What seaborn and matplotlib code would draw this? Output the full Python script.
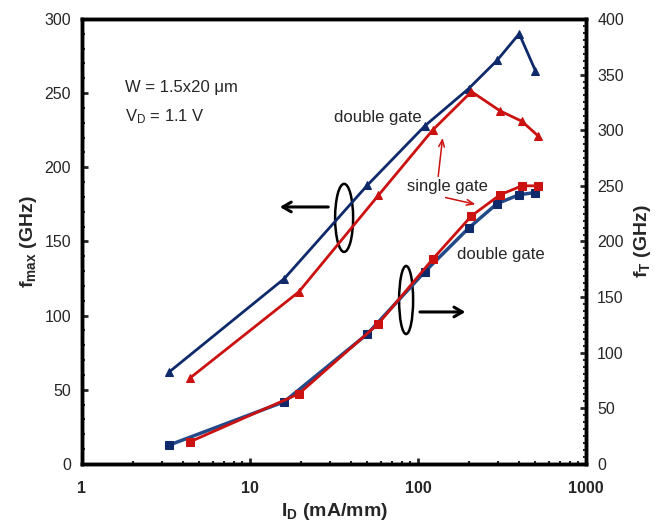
import matplotlib
matplotlib.use("Agg")
import matplotlib.pyplot as plt
import seaborn as sns
from matplotlib.patches import Ellipse
from matplotlib.ticker import FixedLocator, MultipleLocator, LogLocator, NullFormatter

# drain current (mA/mm) for each device
id_double = [3.3, 16, 50, 110, 200, 295, 400, 500]
id_single = [4.4, 19.5, 58, 122, 208, 308, 415, 520]

# fmax (left axis, GHz)
fmax_double = [62, 125, 188, 228, 253, 272, 290, 265]
fmax_single = [58, 116, 181, 225, 251, 238, 231, 221]

# fT (right axis, GHz)
ft_double = [17, 56, 117, 173, 212, 234, 242, 244]
ft_single = [20, 63, 126, 184, 223, 242, 250, 250]

navy = "#0f2a6b"
blue = "#234a88"
red = "#cc1111"

sns.set_style("ticks")
plt.rcParams["font.family"] = ["Liberation Sans", "DejaVu Sans"]
plt.rcParams["mathtext.fontset"] = "custom"
plt.rcParams["mathtext.rm"] = "Liberation Sans"
plt.rcParams["mathtext.it"] = "Liberation Sans"
plt.rcParams["mathtext.bf"] = "Liberation Sans:bold"

fig = plt.figure(figsize=(6.65, 5.23), dpi=100)
ax = fig.add_axes([0.1233, 0.1128, 0.758, 0.851])
ax2 = ax.twinx()

# fmax curves (triangles)
sns.lineplot(x=id_double, y=fmax_double, ax=ax, color=navy, marker="^", markersize=6,
             markeredgecolor=navy, linewidth=2)
sns.lineplot(x=id_single, y=fmax_single, ax=ax, color=red, marker="^", markersize=6,
             markeredgecolor=red, linewidth=2)

# fT curves (squares)
sns.lineplot(x=id_double, y=ft_double, ax=ax2, color=blue, marker="s", markersize=6,
             markeredgecolor=navy, markerfacecolor=navy, linewidth=2.5)
sns.lineplot(x=id_single, y=ft_single, ax=ax2, color=red, marker="s", markersize=6,
             markeredgecolor=red, linewidth=2)

ax.set_xscale("log")
ax.set_xlim(1, 1000)
ax.set_ylim(0, 300)
ax2.set_ylim(0, 400)

ax.xaxis.set_major_locator(FixedLocator([1, 10, 100, 1000]))
ax.set_xticklabels(["1", "10", "100", "1000"], fontweight="bold")
ax.xaxis.set_minor_locator(LogLocator(base=10, subs=range(2, 10)))
ax.xaxis.set_minor_formatter(NullFormatter())
ax.yaxis.set_major_locator(MultipleLocator(50))
ax.yaxis.set_minor_locator(MultipleLocator(10))
ax2.yaxis.set_major_locator(MultipleLocator(50))
ax2.yaxis.set_minor_locator(MultipleLocator(6.25))

for a in (ax, ax2):
    for s in a.spines.values():
        s.set_linewidth(2.5)
        s.set_color("black")
    a.tick_params(which="major", direction="in", length=4, width=2, labelsize=11.5, pad=8)
    a.tick_params(which="minor", direction="in", length=2.5, width=1.5)
ax.tick_params(axis="x", pad=12)

ax.set_xlabel(r"$\mathbf{I_D}$ (mA/mm)", fontsize=14, fontweight="bold", labelpad=4)
ax.set_ylabel(r"$\mathbf{f_{max}}$ (GHz)", fontsize=14, fontweight="bold", labelpad=4)
ax2.set_ylabel(r"$\mathbf{f_T}$ (GHz)", fontsize=14, fontweight="bold", labelpad=6)

# annotations
ax.text(0.0853, 0.847, "W = 1.5x20 \u03bcm", transform=ax.transAxes, fontsize=12, va="center")
ax.text(0.0853, 0.780, r"V$_\mathrm{D}$ = 1.1 V", transform=ax.transAxes, fontsize=12, va="center")
ax.text(0.587, 0.7775, "double gate", transform=ax.transAxes, fontsize=12, ha="center", va="center")
ax.text(0.724, 0.6225, "single gate", transform=ax.transAxes, fontsize=12, ha="center", va="center")
ax.text(0.831, 0.4697, "double gate", transform=ax.transAxes, fontsize=12, ha="center", va="center")

ax.add_patch(Ellipse((0.520, 0.553), 0.0357, 0.153, transform=ax.transAxes,
                     fill=False, edgecolor="black", linewidth=1.8))
ax.add_patch(Ellipse((0.643, 0.3685), 0.0278, 0.153, transform=ax.transAxes,
                     fill=False, edgecolor="black", linewidth=1.8))

big_arrow = dict(arrowstyle="->,head_length=0.6,head_width=0.35", color="black", lw=2.2)
ax.annotate("", xy=(0.387, 0.5775), xytext=(0.494, 0.5775), xycoords="axes fraction",
            textcoords="axes fraction", arrowprops=big_arrow)
ax.annotate("", xy=(0.766, 0.3416), xytext=(0.665, 0.3416), xycoords="axes fraction",
            textcoords="axes fraction", arrowprops=big_arrow)

thin_arrow = dict(arrowstyle="->,head_length=0.5,head_width=0.2", color=red, lw=1.1)
ax.annotate("", xy=(0.716, 0.739), xytext=(0.706, 0.640), xycoords="axes fraction",
            textcoords="axes fraction", arrowprops=thin_arrow)
ax.annotate("", xy=(0.786, 0.582), xytext=(0.716, 0.600), xycoords="axes fraction",
            textcoords="axes fraction", arrowprops=thin_arrow)

fig.savefig("out.png", dpi=100)
